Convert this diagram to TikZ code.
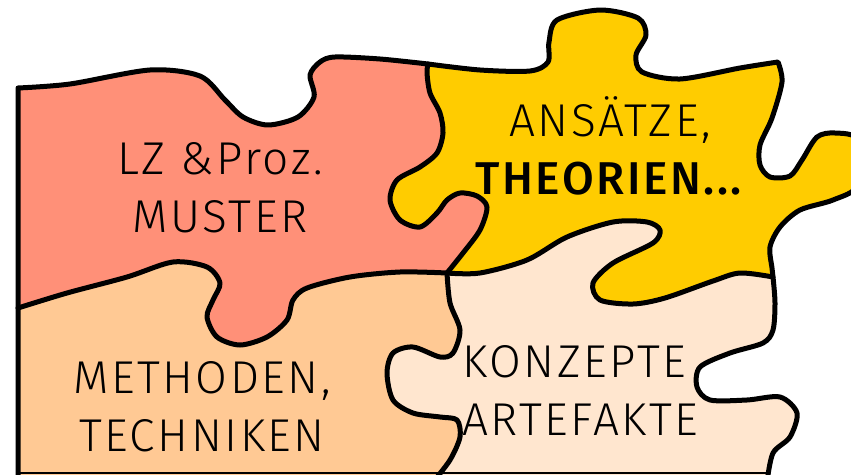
\documentclass[tikz,border=0pt]{standalone}
\usepackage{fontspec}
\setmainfont{Fira Sans}[UprightFont=* Light, BoldFont=* Medium, LetterSpace=5.5]
\definecolor{lzred}{HTML}{FF9078}
\definecolor{thyellow}{HTML}{FFCC00}
\definecolor{meorange}{HTML}{FFC994}
\definecolor{kobeige}{HTML}{FFE6CF}

\begin{document}
\begin{tikzpicture}[x=1pt,y=-1pt,
  edge/.style={line width=5pt,line join=round,line cap=round},
  txt/.style={font=\fontsize{46}{58}\selectfont,align=center,inner sep=0pt}]
\useasboundingbox (0,0) rectangle (851,474);
\clip (0,0) rectangle (851,474);

% red piece
\fill[lzred] plot[smooth] coordinates {(18,88) (70,84) (150,70) (200,76) (225,100) (243,117) (268,125) (298,117) (314,97) (310,75) (320,62) (335,57) (380,59) (428,64)}
  -- plot[smooth] coordinates {(428,64) (427,73) (430,93) (440,113) (443,133) (437,153) (420,167) (397,180) (390,200) (400,220) (420,227) (437,213) (447,200) (460,193) (477,196) (487,207) (480,230) (463,253) (447,273)}
  -- plot[smooth] coordinates {(447,273) (400,272) (350,277) (307,288) (293,300) (287,320) (267,337) (240,345) (217,337) (207,317) (213,300) (220,283) (207,267) (173,262) (127,277) (67,293) (18,308)}
  -- cycle;
% yellow piece
\fill[thyellow] plot[smooth] coordinates {(428,64) (480,70) (530,71) (548,62) (549,42) (557,20) (600,10) (638,18) (646,35) (636,55) (642,72) (680,79) (740,68) (778,62)}
  -- plot[smooth] coordinates {(778,62) (782,82) (772,118) (760,145) (760,165) (770,177) (790,176) (802,160) (817,137) (835,133) (858,140) (858,185) (833,200) (800,210) (780,227) (770,247) (772,268) (773,277)}
  -- plot[smooth] coordinates {(773,277) (740,273) (713,281) (665,298) (633,304) (600,300) (593,283) (613,263) (653,243) (660,230) (647,222) (613,222) (567,237) (527,260) (480,273) (447,273)}
  -- plot[smooth] coordinates {(447,273) (463,253) (480,230) (487,207) (477,196) (460,193) (447,200) (437,213) (420,227) (400,220) (390,200) (397,180) (420,167) (437,153) (443,133) (440,113) (430,93) (427,73) (428,64)}
  -- cycle;
% orange piece
\fill[meorange] plot[smooth] coordinates {(18,308) (67,293) (127,277) (173,262) (207,267) (220,283) (213,300) (207,317) (217,337) (240,345) (267,337) (287,320) (293,300) (307,288) (350,277) (400,272) (447,273)}
  -- plot[smooth] coordinates {(447,273) (450,303) (460,330) (453,353) (440,357) (413,347) (393,353) (387,373) (393,400) (413,413) (440,417) (457,420) (460,437) (450,460) (433,482)}
  -- (18,482) -- cycle;
% beige piece
\fill[kobeige] plot[smooth] coordinates {(773,277) (740,273) (713,281) (665,298) (633,304) (600,300) (593,283) (613,263) (653,243) (660,230) (647,222) (613,222) (567,237) (527,260) (480,273) (447,273)}
  -- plot[smooth] coordinates {(447,273) (450,303) (460,330) (453,353) (440,357) (413,347) (393,353) (387,373) (393,400) (413,413) (440,417) (457,420) (460,437) (450,460) (433,482)}
  -- plot[smooth] coordinates {(767,482) (773,453) (790,437) (797,413) (780,397) (747,400) (710,400) (697,387) (700,367) (730,353) (763,343) (773,330) (775,303) (773,277)}
  -- cycle;

% outlines
\draw[edge] (18,482) -- plot[smooth] coordinates {(18,88) (70,84) (150,70) (200,76) (225,100) (243,117) (268,125) (298,117) (314,97) (310,75) (320,62) (335,57) (380,59) (428,64)}
  -- plot[smooth] coordinates {(428,64) (480,70) (530,71) (548,62) (549,42) (557,20) (600,10) (638,18) (646,35) (636,55) (642,72) (680,79) (740,68) (778,62)}
  -- plot[smooth] coordinates {(778,62) (782,82) (772,118) (760,145) (760,165) (770,177) (790,176) (802,160) (817,137) (835,133) (858,140) (858,185) (833,200) (800,210) (780,227) (770,247) (772,268) (773,277)}
  -- plot[smooth] coordinates {(773,277) (775,303) (773,330) (763,343) (730,353) (700,367) (697,387) (710,400) (747,400) (780,397) (797,413) (790,437) (773,453) (767,482)};
\draw[edge] plot[smooth] coordinates {(773,277) (740,273) (713,281) (665,298) (633,304) (600,300) (593,283) (613,263) (653,243) (660,230) (647,222) (613,222) (567,237) (527,260) (480,273) (447,273)};
\draw[edge] plot[smooth] coordinates {(447,273) (463,253) (480,230) (487,207) (477,196) (460,193) (447,200) (437,213) (420,227) (400,220) (390,200) (397,180) (420,167) (437,153) (443,133) (440,113) (430,93) (427,73) (428,64)};
\draw[edge] plot[smooth] coordinates {(18,308) (67,293) (127,277) (173,262) (207,267) (220,283) (213,300) (207,317) (217,337) (240,345) (267,337) (287,320) (293,300) (307,288) (350,277) (400,272) (447,273)};
\draw[edge] plot[smooth] coordinates {(447,273) (450,303) (460,330) (453,353) (440,357) (413,347) (393,353) (387,373) (393,400) (413,413) (440,417) (457,420) (460,437) (450,460) (433,482)};
\draw[line width=1.5pt] (18,473) -- (770,473);

% labels
\node[txt] (lz) at (220,188) {LZ \&Proz.\\MUSTER};
\node[txt] (ansaetze) at (610,146) {ANSÄTZE,\\\textbf{THEORIEN...}};
\node[txt] (methoden) at (202,407) {METHODEN,\\TECHNIKEN};
\node[txt,align=left,anchor=west] (konzepte) at (462,390) {KONZEPTE\\ARTEFAKTE};
\end{tikzpicture}
\end{document}
